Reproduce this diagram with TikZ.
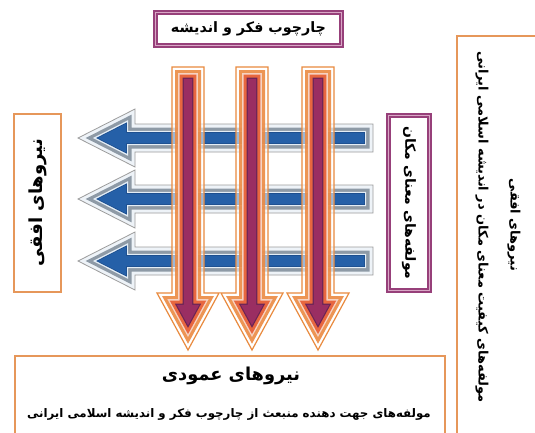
\documentclass[tikz,border=0pt]{standalone}
\usepackage{fontspec}
\newfontfamily\fa[Script=Arabic]{DejaVu Sans}
\TeXXeTstate=1
\definecolor{boxorange}{HTML}{E6975A}
\definecolor{purA}{HTML}{97407A}
\definecolor{purB}{HTML}{D9A7C6}
\definecolor{hgOut}{HTML}{9C9C9C}
\definecolor{hgFill}{HTML}{EEF3F8}
\definecolor{hgBand}{HTML}{8E9AA6}
\definecolor{hgLight}{HTML}{E3EDF6}
\definecolor{hgNavy}{HTML}{1D4F8F}
\definecolor{hgBlue}{HTML}{2560A8}
\definecolor{voOut}{HTML}{E98A3E}
\definecolor{voBand}{HTML}{EC8A42}
\definecolor{voPink}{HTML}{F7D9CF}
\definecolor{voRed}{HTML}{E8673F}
\definecolor{voDark}{HTML}{6B2456}
\definecolor{voCore}{HTML}{9A2E62}
\newcommand\rtl[1]{\beginR #1\endR}
\newcommand\myHarrow[3]{%
  \pgfmathsetmacro\hWW{14-#2}%
  \pgfmathsetmacro\hRX{373-#2}%
  \pgfmathsetmacro\hBX{135-#2}%
  \pgfmathsetmacro\hHH{29*(1-#2/57)-#2/0.8912}%
  \pgfmathsetmacro\hTX{78+#2/0.4535}%
  \path[#3] (\hRX,#1-\hWW) -- (\hBX,#1-\hWW) -- (\hBX,#1-\hHH) -- (\hTX,#1) -- (\hBX,#1+\hHH) -- (\hBX,#1+\hWW) -- (\hRX,#1+\hWW) -- cycle;
}
\newcommand\myVarrow[3]{%
  \pgfmathsetmacro\vWW{16-#2}%
  \pgfmathsetmacro\vTY{67+#2}%
  \pgfmathsetmacro\vBY{293+#2}%
  \pgfmathsetmacro\vHH{31*(1-#2/57)-#2/0.8785}%
  \pgfmathsetmacro\vTP{350-#2/0.4779}%
  \path[#3] (#1-\vWW,\vTY) -- (#1+\vWW,\vTY) -- (#1+\vWW,\vBY) -- (#1+\vHH,\vBY) -- (#1,\vTP) -- (#1-\vHH,\vBY) -- (#1-\vWW,\vBY) -- cycle;
}
\newcommand\fullH[1]{%
  \myHarrow{#1}{0}{fill=hgFill,draw=hgOut,line width=0.8pt}
  \myHarrow{#1}{3.5}{fill=hgBand}
  \myHarrow{#1}{6.8}{fill=hgLight}
  \myHarrow{#1}{8.2}{fill=hgNavy}
  \myHarrow{#1}{9}{fill=hgBlue}
}
\newcommand\fullV[1]{%
  \myVarrow{#1}{0}{fill=white,fill opacity=0.55,draw=voOut,draw opacity=1,line width=1.2pt}
  \myVarrow{#1}{3}{fill=voBand,fill opacity=0.9}
  \myVarrow{#1}{6.2}{fill=voPink,fill opacity=0.9}
  \myVarrow{#1}{7.6}{fill=voRed}
  \myVarrow{#1}{10.6}{fill=voDark}
  \myVarrow{#1}{11.8}{fill=voCore}
}
\tikzset{
  obox/.style={draw=boxorange,line width=1.8pt,fill=white,inner sep=0pt},
  pbox/.style={draw=purA,line width=1.6pt,double=purB,double distance=1.8pt,fill=white,inner sep=0pt},
  ftext/.style={font=\fa\bfseries,inner sep=0pt}
}
\begin{document}
\begin{tikzpicture}[x=1pt,y=-1pt]
\useasboundingbox (0,0) rectangle (535,432);
\clip (0,0) rectangle (535,432);
\fill[white] (0,0) rectangle (535,432);
% boxes
\node[pbox,minimum width=186pt,minimum height=33pt] (top) at (248.5,29)
  {\fa\bfseries\fontsize{14.3}{16}\selectfont\rtl{چارچوب فکر و اندیشه}};
\node[obox,rotate=90,minimum width=178pt,minimum height=47pt] (left) at (37.5,203)
  {\fa\bfseries\fontsize{18}{20}\selectfont\rtl{نیروهای افقی}};
\node[pbox,rotate=-90,minimum width=175pt,minimum height=41pt] (mid) at (409,203)
  {\fa\bfseries\fontsize{14}{16}\selectfont\rtl{مولفه‌های معنای مکان}};
\node[obox,minimum width=103pt,minimum height=424pt] (farright) at (508.5,248) {};
\node[obox,minimum width=430pt,minimum height=104pt] (bottom) at (230,408) {};
% texts in open boxes
\node[ftext,rotate=-90] (frtitle) at (514,225)
  {\fontsize{13}{15}\selectfont\rtl{نیروهای افقی}};
\node[ftext,rotate=-90] (frsub) at (482,227)
  {\fontsize{13}{15}\selectfont\rtl{مولفه‌های کیفیت معنای مکان در اندیشه اسلامی ایرانی}};
\node[ftext] (btitle) at (231,376)
  {\fontsize{17.8}{20}\selectfont\rtl{نیروهای عمودی}};
\node[ftext] (bsub) at (229,414)
  {\fontsize{11.8}{14}\selectfont\rtl{مولفه‌های جهت دهنده منبعث از چارچوب فکر و اندیشه اسلامی ایرانی}};
% horizontal arrows
\fullH{138}
\fullH{199}
\fullH{261}
% vertical arrows
\fullV{188}
\fullV{252}
\fullV{318}
\end{tikzpicture}
\end{document}
